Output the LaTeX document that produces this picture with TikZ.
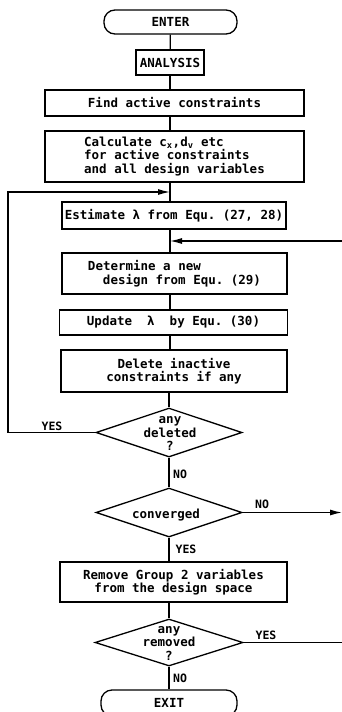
\documentclass[tikz,border=0pt]{standalone}
\usepackage{fontspec}
\setmonofont{DejaVu Sans Mono}
\usetikzlibrary{shapes.geometric,arrows.meta}
\newcommand{\ftxt}{\ttfamily\bfseries\fontsize{12.5}{13.5}\selectfont}
\newcommand{\flbl}{\ttfamily\bfseries\fontsize{11.5}{13}\selectfont}
\tikzset{
  base/.style={draw, line width=1.3pt, inner sep=0pt, font=\ftxt},
  proc/.style={base, rectangle},
  term/.style={base, rectangle, rounded corners=11pt},
  dia/.style={base, diamond},
  txt/.style={inner sep=0pt, font=\ftxt, align=center},
  lbl/.style={inner sep=0pt, font=\flbl},
  conn/.style={line width=1.3pt},
  arr/.style={conn, -{Latex[length=12pt,width=6pt]}},
}
\begin{document}
\begin{tikzpicture}[x=1pt,y=-1pt]
\clip (0,0) rectangle (342,712);
\fill[white] (0,0) rectangle (342,712);
\coordinate (col) at (170,0);
\coordinate (lft) at (8,0);
\coordinate (j1) at (170,192);
\coordinate (j2) at (170,241);
\coordinate (inR) at (342,241);
\coordinate (outR) at (342,511);
\coordinate (outR2) at (342,643);

\node[term, minimum width=133, minimum height=24] (enter) at (170.5,22) {ENTER};
\node[proc, minimum width=68, minimum height=25] (analysis) at (170,62.5) {ANALYSIS};
\node[proc, minimum width=259, minimum height=26] (find) at (174.5,103) {Find active constraints};
\node[proc, minimum width=259, minimum height=51, align=left] (calc) at (174.5,156.5)
  {Calculate c\textsubscript{x},d\textsubscript{v} etc\\for active constraints\\and all design variables};
\node[proc, minimum width=224, minimum height=27] (est) at (174,215.5) {Estimate λ from Equ. (27, 28)};
\node[proc, minimum width=225, minimum height=41, align=left] (det) at (174.5,273.5)
  {Determine a new\\\hspace*{15pt}design from Equ. (29)};
\node[proc, minimum width=228, minimum height=25] (upd) at (173.5,322.5) {Update\ \ λ\ \ by Equ. (30)};
\node[proc, minimum width=226, minimum height=42, align=center] (del) at (174,371)
  {Delete inactive\\constraints if any};
\node[dia, minimum width=146, minimum height=49] (deleted) at (169,432.5) {};
\node[txt] (deletedt) at (170,433.5) {any\\deleted\\?};
\node[dia, minimum width=146, minimum height=49] (conv) at (169,512.5) {};
\node[txt] (convt) at (166,515) {converged};
\node[proc, minimum width=227, minimum height=40, align=center] (rem) at (173.5,582)
  {Remove Group 2 variables\\from the design space};
\node[dia, minimum width=148, minimum height=47] (removed) at (169,642.5) {};
\node[txt] (removedt) at (169,643) {any\\removed\\?};
\node[term, minimum width=136, minimum height=26] (exit) at (169,703) {EXIT};

\draw[conn] (enter) -- (analysis);
\draw[conn] (analysis.south -| col) -- (find.north -| col);
\draw[conn] (find.south -| col) -- (calc.north -| col);
\draw[conn] (calc.south -| col) -- (est.north -| col);
\draw[conn] (est.south -| col) -- (det.north -| col);
\draw[conn] (det.south -| col) -- (upd.north -| col);
\draw[conn] (upd.south -| col) -- (del.north -| col);
\draw[conn] (del.south -| deleted.north) -- (deleted.north);
\draw[conn] (deleted.south) -- (conv.north);
\draw[conn] (conv.south) -- (rem.north -| conv.south);
\draw[conn] (rem.south -| removed.north) -- (removed.north);
\draw[conn] (removed.south) -- (exit.north -| removed.south);

\draw[arr] (deleted.west) -- (deleted.west -| lft) -- (j1 -| lft) -- (j1);
\draw[arr] (inR) -- (j2);
\draw[arr] (conv.east) -- (conv.east -| outR);
\draw[conn] (removed.east) -- (removed.east -| outR2);

\node[lbl] (yes1) at (52,426) {YES};
\node[lbl] (no1) at (180,474) {NO};
\node[lbl] (no2) at (262,504) {NO};
\node[lbl] (yes2) at (186,549) {YES};
\node[lbl] (yes3) at (266,635) {YES};
\node[lbl] (no3) at (180,678) {NO};
\end{tikzpicture}
\end{document}
